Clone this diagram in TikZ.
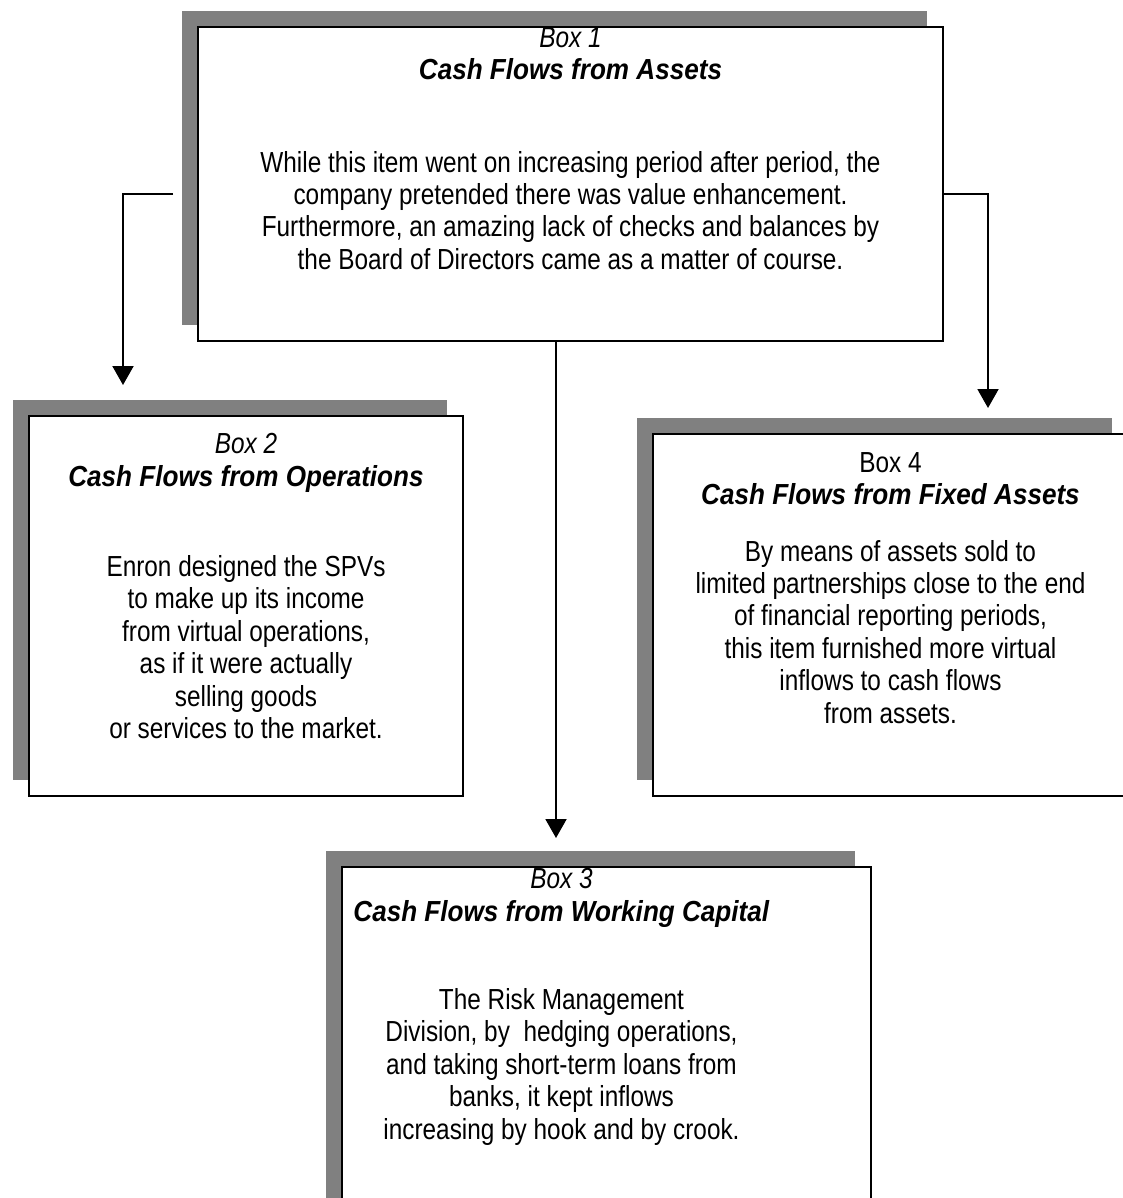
\documentclass[tikz,border=0pt]{standalone}
\usepackage{fontspec}
\setmainfont[FakeStretch=0.84,BoldItalicFeatures={FakeStretch=0.9}]{Liberation Sans}
\definecolor{boxshade}{RGB}{128,128,128}
\usetikzlibrary{shadows,arrows.meta,positioning}

\begin{document}
\begin{tikzpicture}[
                    x=0.5pt, y=-0.5pt,
                    every node/.style={
                        font=\fontsize{14.5}{16.2}\selectfont
                    },
                    cashbox/.style={
                        draw,
                        line width=1pt,
                        fill=white,
                        anchor=north west,
                        inner sep=0pt,
                        general shadow={fill=boxshade, shadow xshift=-8pt, shadow yshift=8pt}
                    },
                    boxtext/.style={
                        anchor=north,
                        align=center,
                        inner sep=0pt
                    },
                    link/.style={
                        line width=1pt,
                        -{Triangle[width=10.5pt,length=9.5pt]}
                    }
                ]
                    \useasboundingbox (0,0) rectangle (1123,1198);

                    % the four boxes
                    \node[cashbox, minimum width=372.5pt, minimum height=157pt] (b1) at (197,26) {};
                    \node[cashbox, minimum width=217pt, minimum height=190pt] (b2) at (28,415) {};
                    \node[cashbox, minimum width=237.5pt, minimum height=181pt] (b4) at (652,433) {};
                    \node[cashbox, minimum width=264.5pt, minimum height=175pt] (b3) at (341,866) {};

                    \node[boxtext] (t1) at ([yshift=-0.5pt]b1.north)
                        {\textit{Box 1}\\ \textbf{\textit{Cash Flows from Assets}}\\[30pt]
                         While this item went on increasing period after period, the\\
                         company pretended there was value enhancement.\\
                         Furthermore, an amazing lack of checks and balances by\\
                         the Board of Directors came as a matter of course.};
                    \node[boxtext] (t2) at ([yshift=-9pt]b2.north)
                        {\textit{Box 2}\\ \textbf{\textit{Cash Flows from Operations}}\\[29pt]
                         Enron designed the SPVs\\
                         to make up its income\\
                         from virtual operations,\\
                         as if it were actually\\
                         selling goods\\
                         or services to the market.};
                    \node[boxtext] (t4) at ([yshift=-9.5pt]b4.north)
                        {Box 4\\ \textbf{\textit{Cash Flows from Fixed Assets}}\\[12pt]
                         By means of assets sold to\\
                         limited partnerships close to the end\\
                         of financial reporting periods,\\
                         this item furnished more virtual\\
                         inflows to cash flows\\
                         from assets.};
                    \node[boxtext] (t3) at ([xshift=-22.5pt,yshift=-1pt]b3.north)
                        {\textit{Box 3}\\ \textbf{\textit{Cash Flows from Working Capital}}\\[28pt]
                         The Risk Management\\
                         Division, by~ hedging operations,\\
                         and taking short-term loans from\\
                         banks, it kept inflows\\
                         increasing by hook and by crook.};

                    % arrows
                    \coordinate (e2) at ([xshift=-12pt,yshift=-5pt]b1.west);
                    \coordinate (s2) at ([xshift=47.5pt,yshift=15pt]b2.north west);
                    \coordinate (s4) at ([xshift=168pt,yshift=12.5pt]b4.north west);
                    \coordinate (s3) at ([xshift=107.5pt,yshift=14pt]b3.north west);
                    \draw[link] (e2) -| (s2);
                    \draw[link] ([yshift=-5pt]b1.east) -| (s4);
                    \draw[link] (s3 |- b1.south) -- (s3);
\end{tikzpicture}
\end{document}
